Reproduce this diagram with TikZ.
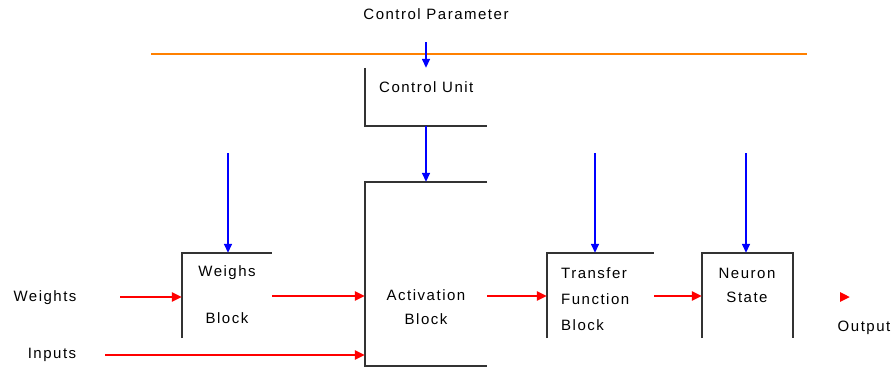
\documentclass[tikz,border=0pt]{standalone}
\usepackage{fontspec}
\setmainfont{Liberation Sans}[LetterSpace=10]
\usetikzlibrary{arrows.meta}
\begin{document}
\begin{tikzpicture}[x=1pt,y=-1pt,
  box/.style={draw=none,inner sep=0pt,minimum width=#1},
  edge/.style={draw=black!80,line width=1.6pt},
  redarr/.style={draw=red,line width=2.6pt,-{Triangle[length=10pt,width=9pt]}},
  bluearr/.style={draw=blue,line width=1.5pt,-{Triangle[length=9pt,width=8pt]}},
  lbl/.style={font=\fontsize{15}{17}\selectfont,inner sep=0pt},
  lbll/.style={lbl,anchor=west}]
\useasboundingbox (0,0) rectangle (896,373);
% boxes (invisible nodes, edges drawn separately)
\node[box=90,minimum height=85] (wb) at (227,295.5) {};
\node[box=122,minimum height=184] (ab) at (426,274) {};
\node[box=122,minimum height=58] (cu) at (426,97) {};
\node[box=107,minimum height=85] (tb) at (600.5,295.5) {};
\node[box=91,minimum height=85] (ns) at (747.5,295.5) {};
% edges
\draw[edge] (wb.south west) -- (wb.north west) -- (wb.north east);
\draw[edge] (ab.north east) -- (ab.north west) -- (ab.south west) -- (ab.south east);
\draw[edge] (cu.north west) -- (cu.south west) -- (cu.south east);
\draw[edge] (tb.south west) -- (tb.north west) -- (tb.north east);
\draw[edge] (ns.south west) -- (ns.north west) -- (ns.north east) -- (ns.south east);
% orange line
\coordinate (ol) at (151,54);
\coordinate (or) at (807,54);
\draw[draw=orange,line width=1.6pt] (ol) -- (or);
% texts
\node[lbl] (cp) at (436,14) {Control Parameter};
\node[lbll] (cut) at (379,87) {Control Unit};
\node[lbl] (wt1) at (227,273) {Weighs};
\node[lbl] (wt2) at (227,318) {Block};
\node[lbl] (at1) at (426,295) {Activation};
\node[lbl] (at2) at (426,319) {Block};
\node[lbll] (tt1) at (561,273) {Transfer};
\node[lbll] (tt2) at (561,299) {Function};
\node[lbll] (tt3) at (561,325) {Block};
\node[lbl] (nt1) at (747,273) {Neuron};
\node[lbl] (nt2) at (747,297) {State};
\node[lbl] (win) at (45,298) {Weights};
\node[lbl] (inp) at (52,355) {Inputs};
\node[lbl] (outp) at (864,328) {Output};
% blue arrows
\coordinate (b0) at (426,42);
\coordinate (b1) at (228,153);
\coordinate (b3) at (595,153);
\coordinate (b4) at (746,153);
\draw[bluearr] (b0) -- (b0 |- cu.north);
\draw[bluearr] (cu.south) -- (ab.north);
\draw[bluearr] (b1) -- (b1 |- wb.north);
\draw[bluearr] (b3) -- (b3 |- tb.north);
\draw[bluearr] (b4) -- (b4 |- ns.north);
% red arrows
\coordinate (r1) at (120,297);
\coordinate (r2) at (105,355);
\coordinate (o1) at (842,297);
\coordinate (o2) at (850,297);
\draw[redarr] (r1) -- (r1 -| wb.west);
\draw[redarr] (wb.east |- 0,296) -- (ab.west |- 0,296);
\draw[redarr] (r2) -- (r2 -| ab.west);
\draw[redarr] (ab.east |- 0,296) -- (tb.west |- 0,296);
\draw[redarr] (tb.east |- 0,296) -- (ns.west |- 0,296);
\draw[redarr] (o1) -- (o2);
\end{tikzpicture}
\end{document}
